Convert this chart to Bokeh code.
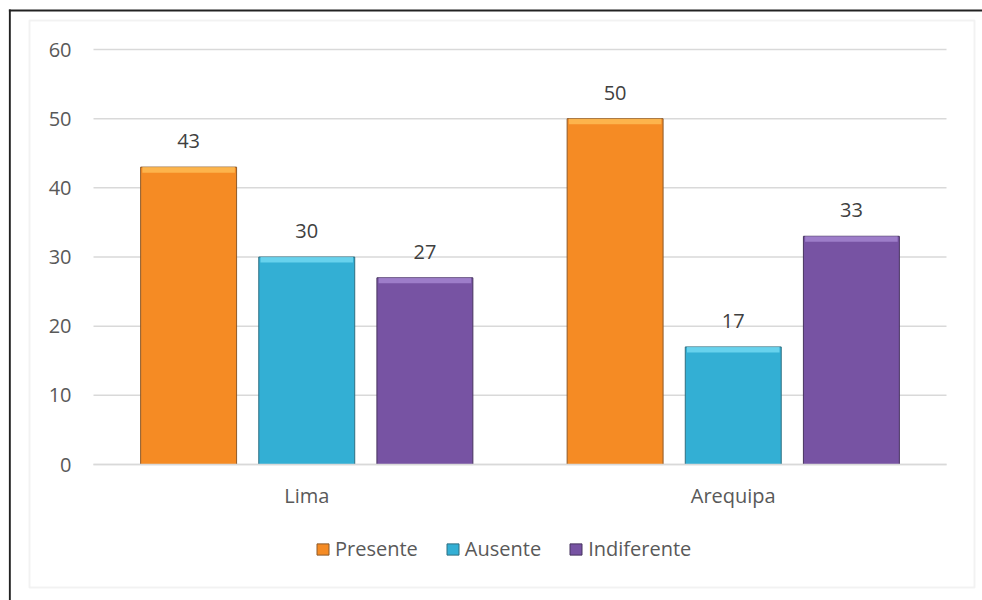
from bokeh.plotting import figure
from bokeh.models import (Range1d, Legend, LegendItem, BoxAnnotation,
                          ColumnDataSource, FixedTicker)
from bokeh.core.properties import value
from bokeh.embed import file_html
from bokeh.resources import INLINE

# ---- data ----
categories = ["Lima", "Arequipa"]
series_names = ["Presente", "Ausente", "Indiferente"]
presente = [43, 50]
ausente = [30, 17]
indiferente = [27, 33]
y_ticks = [0, 10, 20, 30, 40, 50, 60]

series_values = [presente, ausente, indiferente]
fill_colors = ["#F58B24", "#33AFD4", "#7753A3"]
bevel_colors = ["#FFC25A", "#7ADDF5", "#A98BD6"]
edge_colors = ["#8C5A2A", "#2F6F80", "#47345F"]
offsets = [-0.277, 0.0, 0.277]
bar_w = 0.225

FONT = "Open Sans"
cat_pos = [i + 0.5 for i in range(len(categories))]

p = figure(width=982, height=600,
           x_range=Range1d(-0.1993, 2.0844), y_range=Range1d(-19.66, 65.93),
           output_backend="svg", toolbar_location=None,
           min_border_left=8, min_border_right=0, min_border_top=8, min_border_bottom=0)
p.outline_line_color = None
p.background_fill_color = "white"
p.border_fill_color = "white"
p.xgrid.grid_line_color = None
p.ygrid.grid_line_color = None

# horizontal gridlines across the category extent
p.segment(x0=[0] * len(y_ticks), x1=[len(categories)] * len(y_ticks),
          y0=y_ticks, y1=y_ticks, line_color="#d9d9d9", line_width=1.5)

# axes placed inside the frame
p.xaxis.fixed_location = 0
p.xaxis.bounds = (0, len(categories))
p.xaxis.ticker = FixedTicker(ticks=cat_pos)
p.xaxis.major_label_overrides = {pos: c for pos, c in zip(cat_pos, categories)}
p.xaxis.axis_line_color = "#d9d9d9"
p.xaxis.axis_line_width = 1.5
p.xaxis.major_tick_line_color = None
p.xaxis.minor_tick_line_color = None
p.xaxis.major_label_text_font = FONT
p.xaxis.major_label_text_font_size = "20px"
p.xaxis.major_label_text_color = "#595959"
p.xaxis.major_label_standoff = 11

p.yaxis.fixed_location = 0
p.yaxis.ticker = FixedTicker(ticks=y_ticks)
p.yaxis.bounds = (0, 60)
p.yaxis.axis_line_color = None
p.yaxis.major_tick_line_color = None
p.yaxis.minor_tick_line_color = None
p.yaxis.major_tick_out = 0
p.yaxis.major_label_text_font = FONT
p.yaxis.major_label_text_font_size = "20px"
p.yaxis.major_label_text_color = "#595959"
p.yaxis.major_label_standoff = 22

items = []
for name, vals, fc, bc, ec, off in zip(series_names, series_values, fill_colors,
                                       bevel_colors, edge_colors, offsets):
    xs = [c + off for c in cat_pos]
    src = ColumnDataSource(dict(x=xs, val=vals,
                                bev=[v - 0.8 for v in vals],
                                lab=[str(v) for v in vals]))
    r = p.vbar(x="x", top="val", bottom=0, width=bar_w,
               source=src, fill_color=fc, line_color=ec, line_width=1)
    p.vbar(x="x", top="val", bottom="bev", width=bar_w - 0.008,
           source=src, fill_color=bc, line_color=None, fill_alpha=0.75)
    p.text(x="x", y="val", text="lab", source=src,
           text_align="center", text_baseline="middle", y_offset=-26,
           text_font=value(FONT), text_font_size="20px", text_color="#404040")
    items.append(LegendItem(label=name, renderers=[r]))

legend = Legend(items=items, orientation="horizontal", location=(307, 38),
                padding=0, margin=0, spacing=27, glyph_width=15, glyph_height=14,
                label_standoff=5, label_text_font=FONT, label_text_font_size="20px",
                label_text_color="#595959", border_line_color=None,
                background_fill_alpha=0)
p.add_layout(legend)

# chart-area frame and page edge lines
p.add_layout(BoxAnnotation(left=29, right=974, top=20, bottom=587,
                           left_units="canvas", right_units="canvas",
                           top_units="canvas", bottom_units="canvas",
                           fill_alpha=0, line_color="#d4d4d4", line_width=2))
p.add_layout(BoxAnnotation(left=8.3, right=10.3, top=9, bottom=600,
                           left_units="canvas", right_units="canvas",
                           top_units="canvas", bottom_units="canvas",
                           fill_color="#222222", fill_alpha=1, line_color=None))
p.add_layout(BoxAnnotation(left=8.3, right=982, top=9, bottom=11,
                           left_units="canvas", right_units="canvas",
                           top_units="canvas", bottom_units="canvas",
                           fill_color="#222222", fill_alpha=1, line_color=None))

open("out.html", "w").write(file_html(p, INLINE))
